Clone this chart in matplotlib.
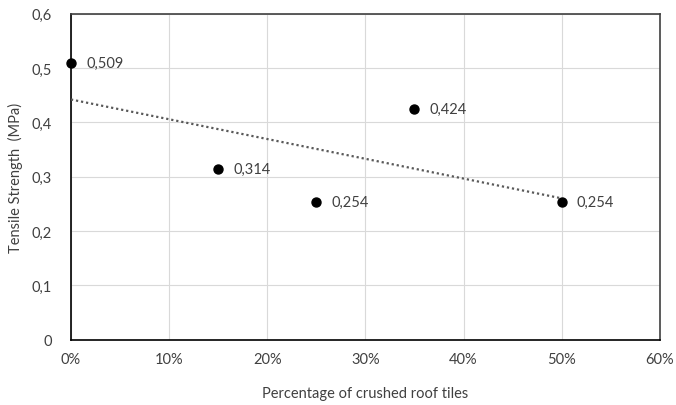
import matplotlib
matplotlib.use("Agg")
import matplotlib.pyplot as plt
import numpy as np
from matplotlib.ticker import FuncFormatter

x_vals = [0.0, 0.15, 0.25, 0.35, 0.50]
y_vals = [0.509, 0.314, 0.254, 0.424, 0.254]
point_labels = ["0,509", "0,314", "0,254", "0,424", "0,254"]
x_label = "Percentage of crushed roof tiles"
y_label = "Tensile Strength  (MPa)"

plt.rcParams['font.family'] = ['Lato', 'DejaVu Sans']

fig = plt.figure(figsize=(6.76, 4.06), dpi=100)
ax = fig.add_axes([0.105, 0.161, 0.871, 0.803])

ax.scatter(x_vals, y_vals, s=42, color='black', zorder=4, clip_on=False)
for xv, yv, lab in zip(x_vals, y_vals, point_labels):
    ax.annotate(lab, (xv, yv), xytext=(11, 0), textcoords='offset points',
                va='center', ha='left', fontsize=10.5, color='#404040')

# linear trendline
slope, intercept = np.polyfit(x_vals, y_vals, 1)
xt = np.array([min(x_vals), max(x_vals)])
ax.plot(xt, slope * xt + intercept, linestyle=(0, (1, 1.3)), color='#595959', lw=1.6, zorder=3)

ax.set_xlim(0, 0.6)
ax.set_ylim(0, 0.6)
ax.set_xticks(np.arange(0, 0.61, 0.1))
ax.set_yticks(np.arange(0, 0.61, 0.1))
ax.xaxis.set_major_formatter(FuncFormatter(lambda v, p: f"{round(v*100):d}%"))
ax.yaxis.set_major_formatter(FuncFormatter(lambda v, p: "0" if abs(v) < 1e-9 else f"{v:.1f}".replace('.', ',')))
ax.tick_params(length=0, labelsize=10.5, labelcolor='#404040', pad=9)
ax.tick_params(axis='y', pad=14)

ax.grid(True, color='#d9d9d9', lw=0.8)
ax.set_axisbelow(True)
ax.spines['left'].set_color('black')
ax.spines['bottom'].set_color('black')
ax.spines['top'].set_color('#404040')
ax.spines['right'].set_color('#404040')
for s in ax.spines.values():
    s.set_linewidth(1.2)

ax.set_xlabel(x_label, fontsize=10.5, color='#404040', labelpad=14)
ax.set_ylabel(y_label, fontsize=10.5, color='#404040', labelpad=6)

fig.savefig("out.png", dpi=100)
